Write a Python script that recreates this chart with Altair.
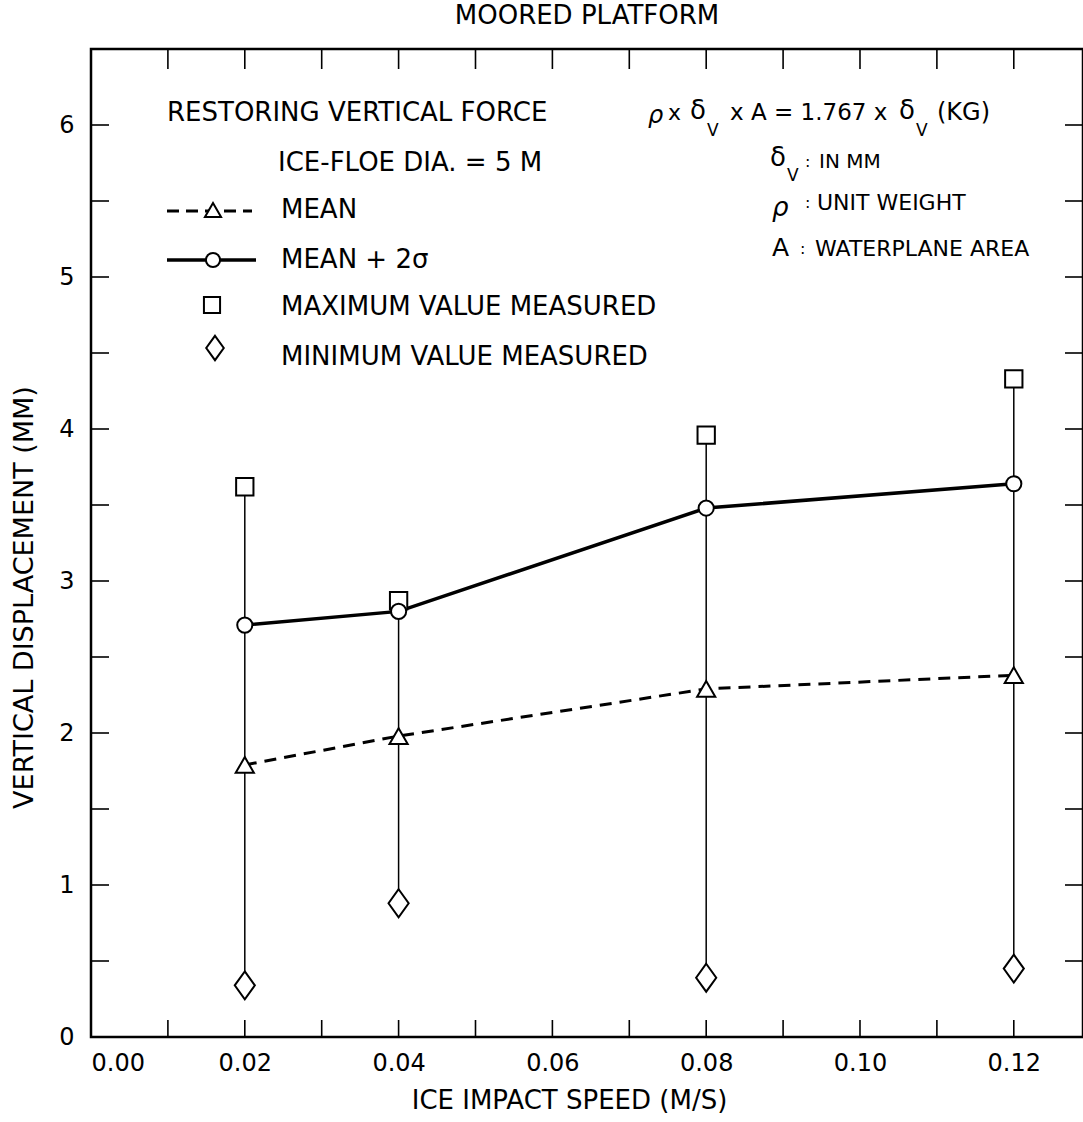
import altair as alt
import pandas as pd

# ---- data ----
speed = [0.02, 0.04, 0.08, 0.12]
mean_vals = [1.79, 1.98, 2.29, 2.38]
mean_2sigma = [2.71, 2.80, 3.48, 3.64]
max_measured = [3.62, 2.87, 3.96, 4.33]
min_measured = [0.34, 0.88, 0.39, 0.45]

x_minor_ticks = [0.01, 0.02, 0.03, 0.04, 0.05, 0.06, 0.07, 0.08, 0.09, 0.10, 0.11, 0.12]
x_labels = [0.00, 0.02, 0.04, 0.06, 0.08, 0.10, 0.12]
y_minor_ticks = [0.5, 1, 1.5, 2, 2.5, 3, 3.5, 4, 4.5, 5, 5.5, 6]
y_labels = [0, 1, 2, 3, 4, 5, 6]

df = pd.DataFrame({
    "speed": speed,
    "mean": mean_vals,
    "mean2s": mean_2sigma,
    "max": max_measured,
    "min": min_measured,
})
xt = pd.DataFrame({"v": x_minor_ticks})
yt = pd.DataFrame({"v": y_minor_ticks})
one = pd.DataFrame({"a": [0]})

# ---- layout ----
L, T, W, H = 91, 49, 992, 988
FONT = "DejaVu Sans"
XS = alt.Scale(domain=[0, 0.129], nice=False, zero=False)
YS = alt.Scale(domain=[0, 6.5], nice=False, zero=False)

xenc = alt.X("speed:Q", scale=XS,
             axis=alt.Axis(values=x_labels, format=".2f", ticks=False, domain=False, grid=False,
                           labelFontSize=24, labelPadding=14, labelFont=FONT, labelColor="black",
                           title="ICE IMPACT SPEED (M/S)", titleFontSize=26, titleFont=FONT,
                           titleFontWeight="normal", titlePadding=12, titleColor="black",
                           titleX=478))
yaxis = alt.Axis(values=y_labels, format="d", ticks=False, domain=False, grid=False,
                 labelFontSize=24, labelPadding=17, labelFont=FONT, labelColor="black",
                 title="VERTICAL DISPLACEMENT (MM)", titleFontSize=27, titleFont=FONT,
                 titleFontWeight="normal", titlePadding=20, titleColor="black",
                 titleY=548)

base = alt.Chart(df)

whisk = base.mark_rule(color="black", strokeWidth=1.5).encode(
    x=xenc, y=alt.Y("min:Q", scale=YS, axis=yaxis), y2="max:Q")
line_mean = base.mark_line(color="black", strokeWidth=3, strokeDash=[12, 8]).encode(
    x=alt.X("speed:Q", scale=XS), y=alt.Y("mean:Q", scale=YS))
line_2s = base.mark_line(color="black", strokeWidth=3.5).encode(
    x=alt.X("speed:Q", scale=XS), y=alt.Y("mean2s:Q", scale=YS))
sq = base.mark_point(shape="square", size=300, fill="white", fillOpacity=1, stroke="black",
                     strokeWidth=2, opacity=1).encode(
    x=alt.X("speed:Q", scale=XS), y=alt.Y("max:Q", scale=YS))
DIAMOND = "M0,-1.25L0.9,0L0,1.25L-0.9,0Z"
dm = base.mark_point(shape=DIAMOND, size=500, fill="white", fillOpacity=1, stroke="black",
                     strokeWidth=2, opacity=1).encode(
    x=alt.X("speed:Q", scale=XS), y=alt.Y("min:Q", scale=YS))
tri = base.mark_point(shape="triangle-up", size=330, fill="white", fillOpacity=1, stroke="black",
                      strokeWidth=2, opacity=1).encode(
    x=alt.X("speed:Q", scale=XS), y=alt.Y("mean:Q", scale=YS))
circ = base.mark_point(shape="circle", size=230, fill="white", fillOpacity=1, stroke="black",
                       strokeWidth=2, opacity=1).encode(
    x=alt.X("speed:Q", scale=XS), y=alt.Y("mean2s:Q", scale=YS))

# ---- inward ticks on all four sides ----
tb = alt.Chart(xt).mark_rule(color="black", strokeWidth=1.6).encode(
    x=alt.X("v:Q", scale=XS), y=alt.value(H), y2=alt.value(H - 17))
tt = alt.Chart(xt).mark_rule(color="black", strokeWidth=1.6).encode(
    x=alt.X("v:Q", scale=XS), y=alt.value(0), y2=alt.value(20))
tl = alt.Chart(yt).mark_rule(color="black", strokeWidth=1.6).encode(
    y=alt.Y("v:Q", scale=YS), x=alt.value(0), x2=alt.value(18))
tr = alt.Chart(yt).mark_rule(color="black", strokeWidth=1.6).encode(
    y=alt.Y("v:Q", scale=YS), x=alt.value(W), x2=alt.value(W - 18))


def txt(s, px, py, size=26, **kw):
    return alt.Chart(one).mark_text(text=s, align="left", baseline="middle", font=FONT,
                                    fontSize=size, color="black", **kw).encode(
        x=alt.value(px - L), y=alt.value(py - T))


def sym(shape, px, py, size):
    return alt.Chart(one).mark_point(shape=shape, size=size, fill="white", fillOpacity=1,
                                     stroke="black", strokeWidth=2, opacity=1).encode(
        x=alt.value(px - L), y=alt.value(py - T))


def hline(x1, x2, py, **kw):
    return alt.Chart(one).mark_rule(color="black", **kw).encode(
        x=alt.value(x1 - L), x2=alt.value(x2 - L), y=alt.value(py - T))


annot = [
    txt("RESTORING VERTICAL FORCE", 167, 113),
    txt("ICE-FLOE DIA. = 5 M", 278, 163),
    hline(167, 252, 211, strokeWidth=3, strokeDash=[12, 7]),
    sym("triangle-up", 213, 210, 260),
    txt("MEAN", 281, 210),
    hline(167, 256, 260, strokeWidth=3.5),
    sym("circle", 213, 260, 200),
    txt("MEAN + 2σ", 281, 260),
    sym("square", 212, 305, 260),
    txt("MAXIMUM VALUE MEASURED", 281, 307),
    sym(DIAMOND, 215, 348, 380),
    txt("MINIMUM VALUE MEASURED", 281, 357),
    # formula
    txt("ρ", 648, 116, 24, fontStyle="italic"),
    txt("x", 668, 113, 22),
    txt("δ", 690, 111, 26),
    txt("V", 707, 131, 17),
    txt("x A = 1.767 x", 730, 113, 23),
    txt("δ", 899, 111, 26),
    txt("V", 916, 131, 17),
    txt("(KG)", 937, 113, 24),
    txt("δ", 770, 158, 26),
    txt("V", 787, 176, 17),
    txt(":", 805, 162, 16),
    txt("IN MM", 819, 162, 20),
    txt("ρ", 772, 208, 26, fontStyle="italic"),
    txt(":", 805, 203, 16),
    txt("UNIT WEIGHT", 817, 203, 22),
    txt("A", 772, 248, 25),
    txt(":", 800, 249, 16),
    txt("WATERPLANE AREA", 815, 249, 22),
]

chart = alt.layer(
    whisk, line_mean, line_2s, sq, dm, tri, circ, tb, tt, tl, tr, *annot
).properties(
    width=W, height=H,
    autosize="none",
    background="white",
    padding={"left": L, "top": T, "right": 0, "bottom": 1122 - T - H},
    title=alt.Title("MOORED PLATFORM", fontSize=26, font=FONT, fontWeight="normal",
                    anchor="middle", offset=19, color="black"),
).configure_view(stroke="black", strokeWidth=2.5)

chart.save("out.html", embed_options={"renderer": "svg", "actions": False})
